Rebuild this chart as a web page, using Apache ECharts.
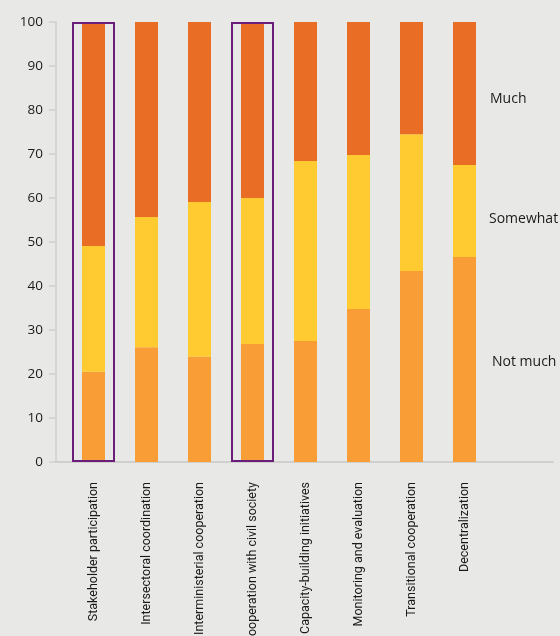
<!DOCTYPE html>
<html>
<head>
<meta charset="utf-8">
<script src="https://cdn.jsdelivr.net/npm/echarts@6/dist/echarts.min.js"></script>
<style>
html,body{margin:0;padding:0;background:#E8E9E6;}
#chart{width:560px;height:636px;}
</style>
</head>
<body>
<div id="chart"></div>
<script>
var categories = ["Stakeholder participation","Intersectoral coordination","Interministerial cooperation","Cooperation with civil society","Capacity-building initiatives","Monitoring and evaluation","Transitional cooperation","Decentralization"];
var notMuch  = [20.5, 26.1, 23.9, 26.8, 27.5, 34.8, 43.4, 46.6];
var somewhat = [28.6, 29.6, 35.2, 33.2, 40.9, 35.0, 31.1, 20.9];
var much     = [50.9, 44.3, 40.9, 40.0, 31.6, 30.2, 25.5, 32.5];
var highlight = [100, '-', '-', 100, '-', '-', '-', '-'];
var yTicks = [0,10,20,30,40,50,60,70,80,90,100];
var seriesNames = ["Not much","Somewhat","Much"];

var chart = echarts.init(document.getElementById('chart'), null, {renderer:'canvas'});
var txt = '#1A1A1A';
var option = {
  backgroundColor: '#E8E9E6',
  animation: false,
  grid: [
    {left: 56, right: 7, top: 22, bottom: 174, outerBoundsMode:'none', containLabel:false},
    {left: 67, width: 424, top: 22, bottom: 174, outerBoundsMode:'none', containLabel:false}
  ],
  xAxis: [
    {gridIndex:0, type:'category', data: categories, axisLine:{show:true, lineStyle:{color:'#CFD0CE', width:2}}, axisTick:{show:false}, axisLabel:{show:false}, splitLine:{show:false}},
    {gridIndex:1, type:'category', data: categories, axisLine:{show:false}, axisTick:{show:false},
      axisLabel:{rotate:90, margin:20, interval:0, color:txt, fontFamily:'Roboto', fontSize:12.5}},
    {gridIndex:1, type:'category', data: categories, show:false}
  ],
  yAxis: [
    {gridIndex:0, type:'value', min:0, max:100, interval:10,
      axisLine:{show:true, lineStyle:{color:'#CFD0CE', width:1.5}},
      axisTick:{show:true, length:7, lineStyle:{color:'#CFD0CE', width:1.5}},
      axisLabel:{margin:13, color:txt, fontFamily:'Open Sans', fontSize:13.5, formatter:function(v){return yTicks.indexOf(v)>=0?String(v):'';}},
      splitLine:{show:false}},
    {gridIndex:1, type:'value', min:0, max:100, show:false}
  ],
  series: [
    {name:seriesNames[0], type:'bar', stack:'s', xAxisIndex:1, yAxisIndex:1, barWidth:23, data:notMuch, itemStyle:{color:'#F99D36'}},
    {name:seriesNames[1], type:'bar', stack:'s', xAxisIndex:1, yAxisIndex:1, barWidth:23, data:somewhat, itemStyle:{color:'#FFCB31'}},
    {name:seriesNames[2], type:'bar', stack:'s', xAxisIndex:1, yAxisIndex:1, barWidth:23, data:much, itemStyle:{color:'#E96D25'}},
    {name:'highlight', type:'bar', xAxisIndex:2, yAxisIndex:1, barWidth:43, data:highlight, z:5,
      itemStyle:{color:'rgba(0,0,0,0)', borderColor:'#6B1D7A', borderWidth:2}}
  ],
  graphic: [
    {type:'text', left:490, top:92, style:{text:seriesNames[2], fill:txt, font:'14px "Open Sans"'}},
    {type:'text', left:489, top:212, style:{text:seriesNames[1], fill:txt, font:'14px "Open Sans"'}},
    {type:'text', left:492, top:355, style:{text:seriesNames[0], fill:txt, font:'14px "Open Sans"'}}
  ]
};
chart.setOption(option);
</script>
</body>
</html>
